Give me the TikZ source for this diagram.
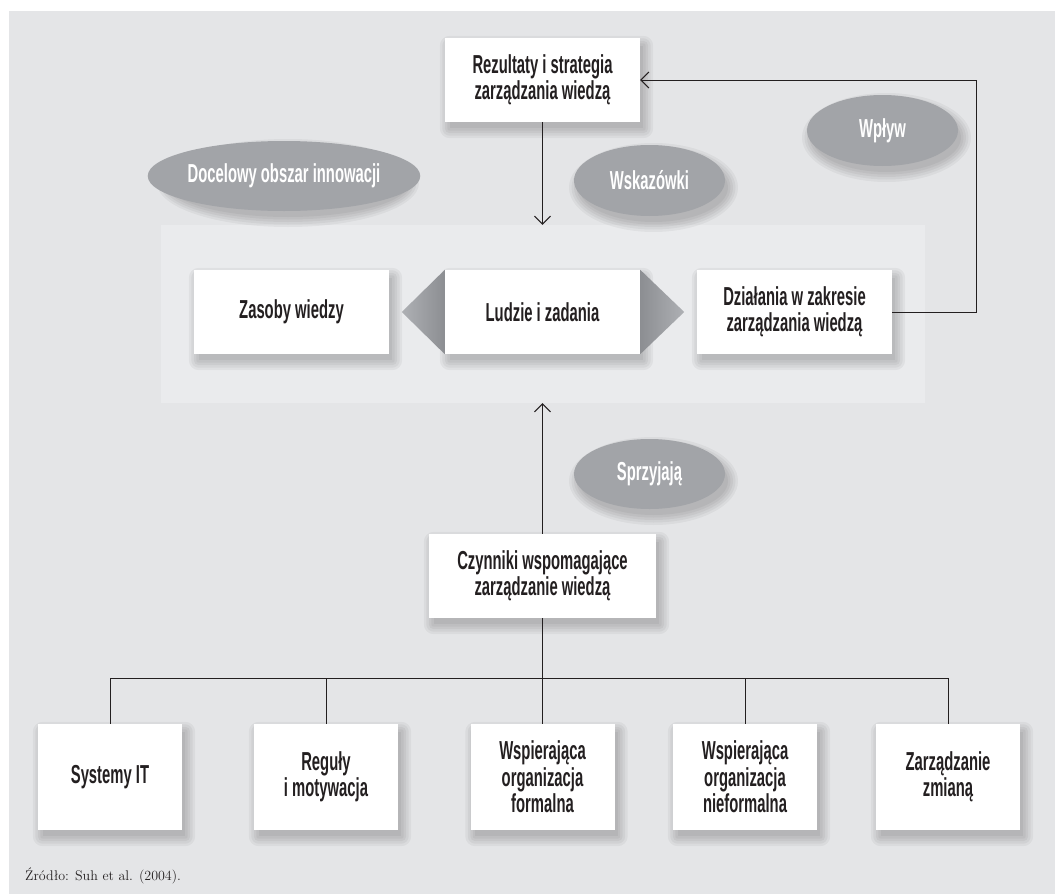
\documentclass[tikz,border=0pt]{standalone}
\usepackage{fontspec}
\newfontfamily\cond{Liberation Sans Bold}[FakeStretch=0.57]
\usetikzlibrary{arrows.meta,shapes.geometric}

\definecolor{pagebg}{HTML}{E4E5E7}
\definecolor{panelbg}{HTML}{EAEBED}
\definecolor{ovalgray}{HTML}{A2A4A8}
\definecolor{ink}{HTML}{231F20}
\definecolor{tridark}{HTML}{8C8E92}
\definecolor{trilight}{HTML}{AEB0B4}

\pgfdeclarelayer{back}
\pgfdeclarelayer{shade}
\pgfsetlayers{back,shade,main}

\tikzset{
  card/.style={fill=white, text=ink, align=center, inner sep=0pt,
      font=\cond\fontsize{26}{26.5}\selectfont},
  midcard/.style={card, minimum width=195pt, minimum height=84pt},
  leafcard/.style={card, minimum width=144pt, minimum height=106pt},
  oval/.style={ellipse, fill=ovalgray, text=white, inner sep=0pt,
      minimum width=151pt, minimum height=71pt,
      font=\cond\fontsize{26}{26.5}\selectfont},
  shadelayer/.style={fill=black, opacity=0.045},
  link/.style={draw=ink, line width=1pt},
  arr/.style={link, -{Straight Barb[length=8pt,width=16pt,line width=1pt]}},
}

% soft drop shadow under a rectangular node: stacked translucent rectangles
\newcommand\cardshadow[1]{%
  \begin{pgfonlayer}{shade}
    \foreach \d in {9,6.5,4,1.5,-1}
      \fill[shadelayer, rounded corners=\d pt+1pt]
        ([shift={({4-\d},{-7+\d})}]#1.north west) rectangle
        ([shift={({4+\d},{-7-\d})}]#1.south east);
  \end{pgfonlayer}}
% the same for an elliptic node with the given half axes
\newcommand\ovalshadow[3]{%
  \begin{pgfonlayer}{shade}
    \foreach \d in {9,6.5,4,1.5,-1}
      \fill[shadelayer] ([shift={(4,-7)}]#1.center)
        ellipse [x radius={#2+\d}, y radius={#3+\d}];
  \end{pgfonlayer}}

\begin{document}
\begin{tikzpicture}[x=1pt, y=1pt]
  % canvas and grey page area (origin at the top left corner)
  \begin{pgfonlayer}{back}
    \fill[white] (0,0) rectangle (1055,-894);
    \fill[pagebg] (9,-11) rectangle (1055,-894);
    % light panel holding the middle row
    \node[fill=panelbg, minimum width=764pt, minimum height=178pt, inner sep=0pt]
      (panel) at (543,-314) {};
  \end{pgfonlayer}
  \useasboundingbox (0,0) rectangle (1055,-894);

  % top box
  \node[midcard] (res) at (542.5,-80) {Rezultaty i strategia\\zarządzania wiedzą};

  % middle row
  \node[midcard] (zas) at (291.5,-312) {Zasoby wiedzy};
  \node[midcard] (lud) at (542.5,-312) {Ludzie i zadania};
  \node[midcard] (dzi) at (794.5,-312) {Działania w zakresie\\zarządzania wiedzą};

  % pointers on both sides of the centre box
  \shade[left color=trilight, right color=tridark]
    (lud.north west) -- (lud.south west) -- ([xshift=-43pt]lud.west) -- cycle;
  \shade[left color=tridark, right color=trilight]
    (lud.north east) -- (lud.south east) -- ([xshift=44pt]lud.east) -- cycle;

  % labels on grey ovals
  \node[oval, minimum width=244pt, minimum height=70pt] (doc) at (284,-176) {Docelowy obszar innowacji};
  \node[oval] (wsk) at (649.5,-180.5) {Wskazówki};
  \node[oval] (wpl) at (882.5,-130.5) {Wpływ};
  \node[oval, minimum height=70pt] (spr) at (649.5,-474) {Sprzyjają};

  % enabling factors
  \node[card, minimum width=227pt, minimum height=84pt] (czy) at (542.5,-576)
    {Czynniki wspomagające\\zarządzanie wiedzą};

  % leaf boxes
  \node[leafcard] (b1) at (110,-777) {Systemy IT};
  \node[leafcard] (b2) at (326,-777) {Reguły\\i motywacja};
  \node[leafcard] (b3) at (542.5,-777) {Wspierająca\\organizacja\\formalna};
  \node[leafcard] (b4) at (745,-777) {Wspierająca\\organizacja\\nieformalna};
  \node[leafcard] (b5) at (948,-777) {Zarządzanie\\zmianą};

  % shadows
  \foreach \n in {res,zas,lud,dzi,czy,b1,b2,b3,b4,b5} {\cardshadow{\n}}
  \ovalshadow{doc}{122}{35}
  \ovalshadow{wsk}{75.5}{35.5}
  \ovalshadow{wpl}{75.5}{35.5}
  \ovalshadow{spr}{75.5}{35}

  % connectors
  \draw[arr] (res.south) -- (res.south |- panel.north);
  \draw[arr] (czy.north) -- (czy.north |- panel.south);
  \draw[arr] (dzi.east) -- ++(84,0) |- (res.east);

  \coordinate (bus) at (0,-678);
  \draw[link] (czy.south) -- (czy.south |- bus);
  \draw[link] (b1.north |- bus) -- (b5.north |- bus);
  \foreach \b in {b1,b2,b3,b4,b5}
    \draw[link] (\b.north) -- (\b.north |- bus);

  % source line
  \node[anchor=base west, inner sep=0pt, text=ink, font=\fontsize{14}{16}\selectfont]
    (src) at (25,-880) {Źródło: Suh et al. (2004).};
\end{tikzpicture}
\end{document}
